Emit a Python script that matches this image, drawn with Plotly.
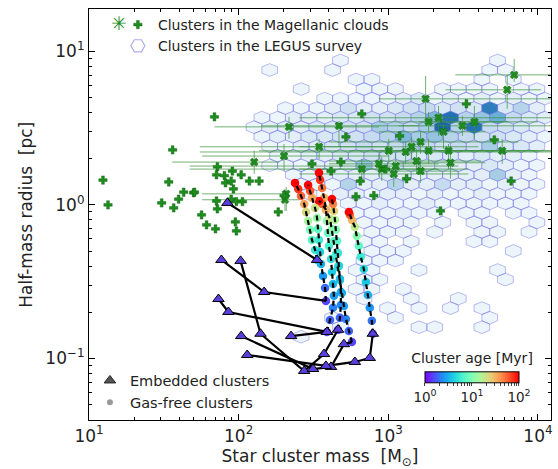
import math
import plotly.graph_objects as go
from plotly.colors import sample_colorscale, sequential

FONT = "DejaVu Sans"

# ---------------- Magellanic Cloud clusters ----------------
# clusters with measured uncertainties (drawn as x with error bars)
mc_err_mass = [6934, 6226, 1775, 2165, 1858, 3126, 3760, 2337, 5768, 1643,
               1431, 1007, 1306, 1858, 2524, 1545, 2601, 1120, 904, 1643,
               1087, 468, 217, 201, 127, 208, 204, 665, 864, 345]
mc_err_radius = [7.02, 5.61, 4.90, 3.69, 3.47, 3.27, 3.47, 2.99, 2.25, 2.57,
                 2.39, 2.25, 2.21, 2.25, 2.25, 1.93, 1.88, 1.79, 1.71, 1.66,
                 1.59, 3.27, 3.22, 2.08, 1.90, 1.18, 1.08, 1.71, 1.85, 2.39]
mc_err_mass_lo = [2806, 2410, 864, 254, 864, 1172, 1592, 864, 2165, 401,
                  254, 137, 55, 546, 864, 401, 1172, 47, 47, 864,
                  254, 141, 69, 57, 36, 57, 57, 254, 401, 55]
mc_err_mass_hi = [12200, 10500, 12200, 12200, 6300, 12200, 10000, 4446, 12200, 7380,
                  3990, 5430, 12200, 10000, 12200, 4180, 4446, 2940, 3427, 2940,
                  3427, 1592, 864, 1007, 187, 217, 254, 2165, 2165, 1007]
mc_err_radius_lo = [6.32, 4.22, 3.47, 2.81, 2.99, 2.81, 2.69, 2.32, 1.85, 2.15,
                    1.99, 1.85, 1.85, 1.85, 1.71, 1.59, 1.48, 1.48, 1.43, 1.39,
                    1.31, 2.39, 2.69, 1.66, 1.59, 0.914, 0.914, 1.43, 1.52, 1.99]
mc_err_radius_hi = [8.93, 6.92, 6.92, 4.41, 4.03, 3.80, 4.41, 3.37, 2.69, 2.99,
                    2.77, 2.69, 2.57, 2.69, 2.49, 2.32, 2.32, 2.15, 2.05, 1.99,
                    1.85, 3.52, 3.74, 2.49, 2.25, 1.31, 1.27, 1.99, 2.15, 2.69]

# clusters without uncertainties (drawn as +)
mc_plus_mass = [12.4, 13.4, 30.6, 34.1, 36.8, 39.7, 42.9, 50.0, 56.5, 61.0,
                70.0, 95.1, 96.6, 72.1, 71.1, 80.3, 90.8, 104, 118, 137,
                81.7, 89.2, 92.3, 89.2, 71.1, 72.1, 96.6, 106, 36.2, 184,
                68.9, 521, 665, 309, 414, 482, 650, 608, 800, 961,
                50.7, 3325, 1191, 5108, 1325, 6620, 2232, 201]
mc_plus_radius = [1.45, 1.00, 1.03, 1.41, 0.956, 1.09, 1.21, 1.20, 0.861, 0.741,
                  0.698, 0.775, 0.677, 1.77, 1.57, 1.55, 1.66, 1.57, 1.43, 1.43,
                  1.39, 1.43, 1.27, 1.09, 1.06, 0.942, 1.05, 1.05, 2.28, 0.900,
                  3.74, 2.77, 3.91, 1.85, 1.66, 1.90, 1.43, 1.13, 1.15, 1.71,
                  1.21, 4.55, 2.81, 2.65, 1.48, 1.43, 0.914, 1.15]

# ---------------- LEGUS hexbin counts ----------------
# hexagonal grid in log space: row i centred at log r = R0 - i*DR,
# odd rows shifted by half a column
hex_logm0, hex_dlogm = 2.05, 0.105
hex_logr0, hex_dlogr = 0.94, 0.062
legus_counts = [
    [0, 0, 0, 0, 0, 0, 1, 0, 0, 0, 0, 0, 0, 0, 0, 0, 1, 0, 0, 0],
    [0, 1, 0, 0, 0, 1, 0, 0, 0, 0, 0, 0, 0, 0, 0, 1, 1, 0, 0, 0],
    [0, 0, 0, 0, 0, 0, 0, 1, 1, 0, 0, 0, 0, 0, 0, 1, 0, 1, 0, 0],
    [0, 0, 0, 1, 0, 0, 0, 1, 1, 1, 0, 0, 1, 1, 1, 1, 0, 1, 1, 0],
    [0, 0, 0, 0, 0, 1, 1, 1, 1, 1, 2, 3, 1, 2, 1, 2, 1, 2, 1, 1],
    [0, 0, 1, 1, 1, 2, 4, 2, 2, 3, 4, 5, 3, 4, 3, 14, 3, 6, 2, 0],
    [0, 1, 1, 2, 2, 2, 3, 3, 4, 4, 5, 6, 9, 15, 6, 8, 10, 5, 3, 2],
    [1, 2, 2, 2, 3, 3, 4, 4, 7, 6, 5, 7, 16, 6, 15, 5, 4, 3, 2, 0],
    [0, 1, 2, 2, 3, 3, 4, 4, 5, 6, 9, 7, 8, 6, 5, 4, 4, 3, 2, 1],
    [0, 1, 1, 2, 2, 3, 4, 5, 4, 5, 6, 5, 4, 5, 4, 7, 3, 3, 2, 0],
    [0, 0, 1, 1, 2, 2, 3, 3, 4, 4, 4, 3, 3, 3, 2, 3, 2, 2, 1, 0],
    [0, 1, 1, 1, 2, 2, 3, 8, 3, 3, 3, 2, 3, 2, 2, 3, 2, 1, 1, 0],
    [0, 0, 0, 1, 1, 2, 2, 2, 2, 3, 2, 2, 2, 2, 2, 2, 7, 2, 1, 0],
    [0, 0, 0, 1, 1, 1, 6, 2, 2, 6, 2, 2, 5, 2, 2, 1, 2, 1, 1, 0],
    [0, 0, 0, 0, 1, 0, 2, 2, 1, 2, 2, 1, 2, 1, 1, 2, 1, 1, 1, 0],
    [0, 0, 0, 0, 0, 0, 1, 1, 2, 1, 1, 2, 1, 1, 1, 1, 1, 1, 0, 0],
    [0, 0, 0, 0, 0, 0, 0, 1, 1, 1, 2, 1, 1, 0, 1, 1, 0, 1, 1, 0],
    [0, 0, 0, 0, 0, 0, 0, 1, 1, 1, 1, 0, 1, 0, 1, 1, 0, 0, 1, 0],
    [0, 0, 0, 0, 0, 0, 0, 0, 1, 1, 1, 0, 1, 0, 0, 1, 1, 0, 1, 0],
    [0, 0, 0, 0, 0, 0, 0, 1, 1, 0, 1, 0, 0, 0, 1, 1, 0, 0, 0, 0],
    [0, 0, 0, 0, 0, 0, 0, 0, 1, 1, 1, 0, 0, 0, 0, 0, 0, 1, 0, 0],
    [0, 0, 0, 0, 0, 0, 0, 1, 1, 1, 0, 0, 0, 0, 0, 0, 0, 0, 0, 0],
    [0, 0, 0, 0, 0, 0, 0, 1, 1, 0, 0, 1, 0, 0, 0, 0, 1, 0, 0, 0],
    [0, 0, 0, 0, 0, 0, 0, 1, 1, 0, 0, 0, 0, 0, 0, 0, 1, 0, 0, 0],
    [0, 0, 0, 0, 0, 0, 0, 1, 1, 0, 1, 0, 0, 0, 0, 0, 0, 0, 0, 0],
    [0, 0, 0, 0, 0, 0, 0, 1, 0, 0, 1, 0, 0, 1, 0, 0, 0, 0, 0, 0],
    [0, 0, 0, 0, 0, 0, 0, 0, 0, 1, 0, 1, 0, 1, 0, 1, 0, 0, 0, 0],
    [0, 0, 0, 0, 0, 1, 0, 0, 0, 1, 0, 0, 0, 0, 0, 1, 0, 0, 0, 0],
    [0, 0, 0, 0, 0, 0, 1, 0, 0, 0, 0, 1, 1, 0, 0, 1, 0, 0, 0, 0],
    [0, 0, 0, 1, 0, 0, 0, 0, 0, 0, 0, 0, 0, 0, 0, 0, 0, 0, 0, 0],
]

# ---------------- simulated clusters ----------------
# gas-free evolution tracks: mass [Msun], half-mass radius [pc], age [Myr]
gasfree_mass = [
    [334, 324, 309, 300, 291, 282, 274, 261, 250, 238],
    [389, 408, 427, 433, 427, 420, 414, 401, 395, 389, 383, 372, 361, 350, 344],
    [571, 545, 521, 505, 490, 475, 461, 447, 433, 420, 408, 383, 361, 344],
    [788, 776, 752, 730, 708, 686, 655, 636, 616, 598, 571, 554, 545],
    [461, 475, 482, 482, 475, 468, 461, 454, 447, 440, 433, 427, 420],
    [383, 378, 366, 355, 350, 344, 339, 334, 324, 309, 300, 291],
]
gasfree_radius = [
    [0.438, 0.509, 0.592, 0.688, 0.787, 0.900, 1.015, 1.144, 1.271, 1.391],
    [0.149, 0.178, 0.214, 0.256, 0.306, 0.366, 0.445, 0.541, 0.657, 0.787,
     0.942, 1.111, 1.290, 1.455, 1.616],
    [0.128, 0.151, 0.181, 0.220, 0.267, 0.325, 0.395, 0.480, 0.583, 0.698,
     0.811, 0.928, 1.015, 1.062],
    [0.145, 0.176, 0.214, 0.259, 0.315, 0.383, 0.459, 0.541, 0.628, 0.719,
     0.798, 0.861, 0.900],
    [0.154, 0.184, 0.223, 0.271, 0.330, 0.401, 0.487, 0.583, 0.688, 0.798,
     0.914, 1.015, 1.094],
    [0.237, 0.288, 0.345, 0.413, 0.494, 0.592, 0.698, 0.823, 0.956, 1.111,
     1.234, 1.349],
]
gasfree_age = [
    [4.5, 5.5, 7.0, 9.5, 14, 22, 35, 55, 75, 100],
    [1.5, 1.8, 2.2, 2.7, 3.3, 4.0, 5.0, 6.0, 8.0, 12, 20, 32, 50, 75, 100],
    [1.5, 1.8, 2.2, 2.7, 3.3, 4.0, 5.0, 6.0, 8.0, 12, 20, 32, 55, 100],
    [1.6, 2.0, 2.5, 3.0, 3.7, 4.5, 5.5, 7.5, 11, 18, 30, 55, 100],
    [1.5, 1.8, 2.3, 2.9, 3.5, 4.3, 5.3, 7.0, 10, 15, 25, 45, 100],
    [1.5, 1.9, 2.5, 3.2, 4.2, 5.5, 7.5, 12, 20, 35, 60, 100],
]

# embedded phases; each one feeds the gas-free track with the given index
embedded_mass = [
    [84.1, 334],
    [76.7, 148],
    [103, 140, 274, 372, 461],
    [73.3, 85.4, 389],
    [104, 314, 414, 505],
    [224, 389],
    [114, 383, 598, 752, 788],
]
embedded_radius = [
    [1.030, 0.438],
    [0.438, 0.271],
    [0.432, 0.145, 0.0830, 0.107, 0.154],
    [0.244, 0.201, 0.149],
    [0.140, 0.0855, 0.0882, 0.124],
    [0.140, 0.149],
    [0.1055, 0.0895, 0.0950, 0.1009, 0.145],
]
embedded_track = [0, 5, 4, 1, 2, 1, 3]

# tick labels
x_tick_vals = [10, 100, 1000, 10000]
x_tick_text = ["10<sup>1</sup>", "10<sup>2</sup>", "10<sup>3</sup>", "10<sup>4</sup>"]
y_tick_vals = [0.1, 1, 10]
y_tick_text = ["10<sup>\u22121</sup>", "10<sup>0</sup>", "10<sup>1</sup>"]
age_tick_vals = [1, 10, 100]
age_tick_text = ["10<sup>0</sup>", "10<sup>1</sup>", "10<sup>2</sup>"]

# ---------------- styling ----------------
GREEN = "#1f8c1f"
GREEN_DARK = "#0b5e0b"
ERR_GREEN = "rgba(55,145,55,0.7)"
HEX_EDGE = "rgba(105,105,225,0.45)"
TRI_COLOR = "#5a3fdc"
RAINBOW = [
    [0.0, "rgb(128,0,255)"], [0.1, "rgb(77,79,252)"], [0.2, "rgb(26,150,243)"],
    [0.3, "rgb(26,206,227)"], [0.4, "rgb(77,243,206)"], [0.5, "rgb(128,255,180)"],
    [0.6, "rgb(179,243,150)"], [0.7, "rgb(230,206,116)"], [0.8, "rgb(255,150,79)"],
    [0.9, "rgb(255,79,40)"], [1.0, "rgb(255,0,0)"],
]
HEX_SHAPE = [(0.5, 1 / 3), (0, 2 / 3), (-0.5, 1 / 3), (-0.5, -1 / 3),
             (0, -2 / 3), (0.5, -1 / 3), (0.5, 1 / 3)]


def minor_ticks(decades):
    return [k * 10 ** d for d in decades for k in range(2, 10)]


fig = go.Figure()

# LEGUS hexbin, one filled trace per count level
levels = sorted({c for row in legus_counts for c in row if c > 0})
for lev in levels:
    xs, ys = [], []
    for i, row in enumerate(legus_counts):
        for j, c in enumerate(row):
            if c != lev:
                continue
            cx = hex_logm0 + hex_dlogm * (j + 0.5 * (i % 2))
            cy = hex_logr0 - hex_dlogr * i
            for ox, oy in HEX_SHAPE:
                xs.append(10 ** (cx + ox * hex_dlogm))
                ys.append(10 ** (cy + oy * hex_dlogr))
            xs.append(None)
            ys.append(None)
    fill = sample_colorscale(sequential.Blues, [min(lev / 20.0, 1.0)])[0]
    fig.add_trace(go.Scatter(
        x=xs, y=ys, mode="lines", fill="toself", fillcolor=fill,
        line=dict(color=HEX_EDGE, width=1), hoverinfo="skip", showlegend=False))

# Magellanic clusters with error bars
fig.add_trace(go.Scatter(
    x=mc_err_mass, y=mc_err_radius, mode="markers",
    marker=dict(symbol="x", size=7, color=GREEN, line=dict(color=GREEN_DARK, width=0.5)),
    error_x=dict(type="data", symmetric=False,
                 array=[h - m for h, m in zip(mc_err_mass_hi, mc_err_mass)],
                 arrayminus=[m - l for l, m in zip(mc_err_mass_lo, mc_err_mass)],
                 color=ERR_GREEN, thickness=1, width=0),
    error_y=dict(type="data", symmetric=False,
                 array=[h - r for h, r in zip(mc_err_radius_hi, mc_err_radius)],
                 arrayminus=[r - l for l, r in zip(mc_err_radius_lo, mc_err_radius)],
                 color=ERR_GREEN, thickness=1, width=0),
    showlegend=False, hoverinfo="skip"))

# Magellanic clusters without error bars
fig.add_trace(go.Scatter(
    x=mc_plus_mass, y=mc_plus_radius, mode="markers",
    name="Clusters in the Magellanic clouds", legend="legend",
    marker=dict(symbol="cross", size=7, color=GREEN, line=dict(color=GREEN_DARK, width=0.4)),
    hoverinfo="skip"))

# LEGUS legend entry
fig.add_trace(go.Scatter(
    x=[None], y=[None], mode="markers", name="Clusters in the LEGUS survey",
    legend="legend",
    marker=dict(symbol="hexagon2", size=14, color="white",
                line=dict(color="rgba(105,105,225,0.55)", width=1.2))))

# gas-free cluster dots coloured by age
all_m = [m for trk in gasfree_mass for m in trk]
all_r = [r for trk in gasfree_radius for r in trk]
all_c = [math.log10(a) for trk in gasfree_age for a in trk]
fig.add_trace(go.Scatter(
    x=all_m, y=all_r, mode="markers",
    marker=dict(size=8.5, color=all_c, colorscale=RAINBOW, cmin=0, cmax=2,
                line=dict(width=0),
                colorbar=dict(
                    orientation="h", x=0.829, xanchor="center",
                    y=0.035, yanchor="bottom",
                    len=94, lenmode="pixels", thickness=11,
                    xpad=0, ypad=0, outlinewidth=1, outlinecolor="black",
                    title=dict(text="Cluster age [Myr]", side="top",
                               font=dict(family=FONT, size=14, color="#222")),
                    tickmode="array",
                    tickvals=[math.log10(v) for v in age_tick_vals]
                    + [math.log10(v) for v in minor_ticks([0, 1])],
                    ticktext=age_tick_text + [""] * 16,
                    ticks="outside", ticklen=3, tickwidth=1,
                    tickfont=dict(family=FONT, size=13.5, color="#222"))),
    showlegend=False, hoverinfo="skip"))

# dashed evolution lines on top of the dots
for tm, tr in zip(gasfree_mass, gasfree_radius):
    fig.add_trace(go.Scatter(
        x=tm, y=tr, mode="lines", line=dict(color="black", width=2.2, dash="5px,4px"),
        showlegend=False, hoverinfo="skip"))

# embedded phases: solid lines into the start of the gas-free track
tri_m, tri_r = [], []
for em, er, k in zip(embedded_mass, embedded_radius, embedded_track):
    fig.add_trace(go.Scatter(
        x=em + [gasfree_mass[k][0]], y=er + [gasfree_radius[k][0]],
        mode="lines", line=dict(color="black", width=2.2),
        showlegend=False, hoverinfo="skip"))
    tri_m += em
    tri_r += er
fig.add_trace(go.Scatter(
    x=tri_m, y=tri_r, mode="markers",
    marker=dict(symbol="triangle-up", size=10, color=TRI_COLOR,
                line=dict(color="black", width=1)),
    showlegend=False, hoverinfo="skip"))

# second legend entries
fig.add_trace(go.Scatter(
    x=[None], y=[None], mode="markers", name="Embedded clusters", legend="legend2",
    marker=dict(symbol="triangle-up", size=10, color="#555555",
                line=dict(color="#222222", width=1))))
fig.add_trace(go.Scatter(
    x=[None], y=[None], mode="markers", name="Gas-free clusters", legend="legend2",
    marker=dict(symbol="circle", size=6, color="#999999")))

axis_common = dict(
    type="log", showline=True, linecolor="black", linewidth=1.2, mirror="allticks",
    ticks="inside", ticklen=6, tickwidth=1, tickcolor="black", showgrid=False,
    zeroline=False, tickfont=dict(family=FONT, size=17, color="#222"),
)

fig.update_layout(
    width=558, height=469,
    margin=dict(l=89, r=5, t=9, b=49),
    paper_bgcolor="white", plot_bgcolor="white",
    font=dict(family=FONT, color="#222"),
    xaxis=dict(
        **axis_common, range=[1, 4.087], tickmode="array",
        tickvals=x_tick_vals, ticktext=x_tick_text,
        minor=dict(tickmode="array", tickvals=minor_ticks([1, 2, 3]),
                   ticks="inside", ticklen=3, tickcolor="black"),
        title=dict(text="Star cluster mass  [M<sub>\u2299</sub>]",
                   font=dict(family=FONT, size=17), standoff=7),
    ),
    yaxis=dict(
        **axis_common, range=[-1.40, 1.275], tickmode="array",
        tickvals=y_tick_vals, ticktext=y_tick_text,
        minor=dict(tickmode="array", tickvals=minor_ticks([-2, -1, 0, 1]),
                   ticks="inside", ticklen=3, tickcolor="black"),
    ),
    legend=dict(x=0.0625, y=1.0, xanchor="left", yanchor="top",
                bgcolor="rgba(0,0,0,0)", font=dict(family=FONT, size=14, color="#222")),
    legend2=dict(x=0.002, y=0.135, xanchor="left", yanchor="top",
                 bgcolor="rgba(0,0,0,0)", font=dict(family=FONT, size=14.5, color="#222")),
    annotations=[
        dict(text="\u2733", xref="paper", yref="paper", x=0.0647, y=0.967,
             xanchor="center", yanchor="middle", showarrow=False,
             font=dict(family=FONT, size=19, color=GREEN)),
        dict(text="Half-mass radius  [pc]", xref="paper", yref="paper",
             x=-0.138, y=0.5, xanchor="center", yanchor="middle",
             textangle=-90, showarrow=False,
             font=dict(family=FONT, size=17, color="#222")),
    ],
)

fig.write_html("out.html")
